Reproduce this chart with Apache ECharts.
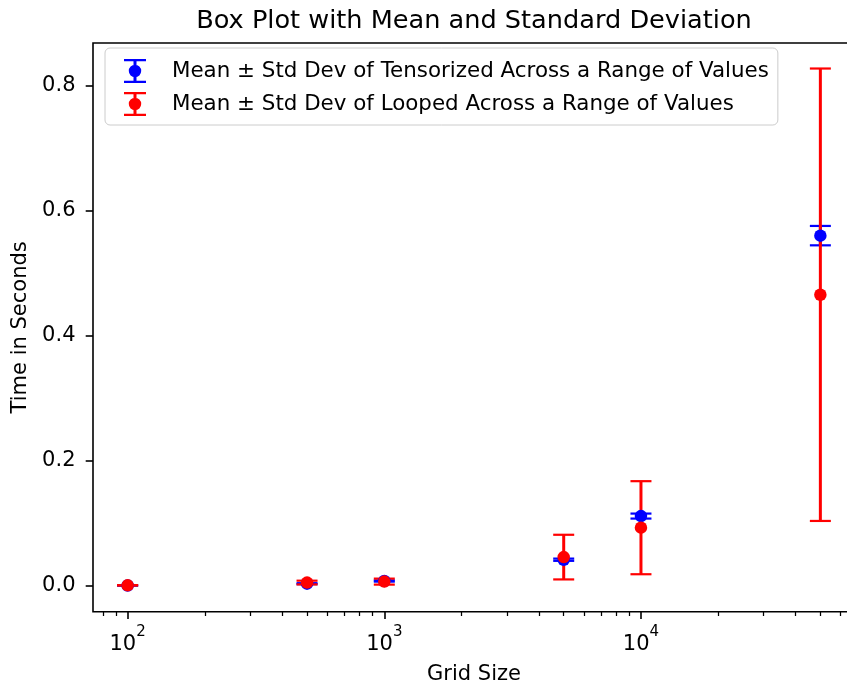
<!DOCTYPE html>
<html>
<head>
<meta charset="utf-8">
<script src="https://cdn.jsdelivr.net/npm/echarts@6/dist/echarts.min.js"></script>
<style>
  html, body { margin: 0; padding: 0; background: #fff; }
  #chart { width: 847px; height: 682px; }
</style>
</head>
<body>
<div id="chart"></div>
<script>
// Benchmark timings (seconds) per grid size
const gridSizes = [100, 500, 1000, 5000, 10000, 50000];
const tensorMean = [0.0006, 0.0035, 0.0078, 0.0418, 0.1116, 0.560];
const tensorStd  = [0.0002, 0.0008, 0.0010, 0.0018, 0.0040, 0.0155];
const loopMean   = [0.0009, 0.0053, 0.0068, 0.0460, 0.0930, 0.4655];
const loopStd    = [0.0003, 0.0030, 0.0048, 0.0357, 0.0744, 0.3617];

const yTicks = [0, 0.2, 0.4, 0.6, 0.8];
const xMajorExps = [2, 3, 4];

const tensorName = 'Mean \u00b1 Std Dev of Tensorized Across a Range of Values';
const loopName = 'Mean \u00b1 Std Dev of Looped Across a Range of Values';

const FONT = 'DejaVu Sans';
const BLUE = '#0000ff';
const RED = '#ff0000';

// x is drawn on a base-10 logarithmic scale
const lg = Math.log10;
const logSpan = lg(gridSizes[gridSizes.length - 1]) - lg(gridSizes[0]);
const xMin = lg(gridSizes[0]) - 0.05 * logSpan;
const xMax = lg(gridSizes[gridSizes.length - 1]) + 0.05 * logSpan;

// minor ticks at 2..9 x 10^k inside the visible range
const xMinor = [];
for (let e = 1; e <= 4; e++) {
  for (let k = 2; k <= 9; k++) {
    const v = lg(k * Math.pow(10, e));
    if (v >= xMin && v <= xMax) xMinor.push(v);
  }
}

function errorData(means, stds) {
  return gridSizes.map((g, i) => [lg(g), means[i], stds[i]]);
}
function pointData(means) {
  return gridSizes.map((g, i) => [lg(g), means[i]]);
}

function errorBar(color) {
  return function (params, api) {
    const x = api.value(0), m = api.value(1), s = api.value(2);
    const top = api.coord([x, m + s]);
    const bot = api.coord([x, m - s]);
    const half = 10.5;
    return {
      type: 'group',
      children: [
        { type: 'line', shape: { x1: top[0], y1: top[1], x2: bot[0], y2: bot[1] },
          style: { stroke: color, lineWidth: 3 } },
        { type: 'line', shape: { x1: top[0] - half, y1: top[1], x2: top[0] + half, y2: top[1] },
          style: { stroke: color, lineWidth: 2.2 } },
        { type: 'line', shape: { x1: bot[0] - half, y1: bot[1], x2: bot[0] + half, y2: bot[1] },
          style: { stroke: color, lineWidth: 2.2 } }
      ]
    };
  };
}

// legend handle: capped vertical bar with a dot
const handleIcon = 'path://M0,0 H22 V2.2 H0 Z M0,21.8 H22 V24 H0 Z M9.5,0 H12.5 V24 H9.5 Z ' +
  'M17.2,12 A6.2,6.2 0 1 1 4.8,12 A6.2,6.2 0 1 1 17.2,12 Z';

const chart = echarts.init(document.getElementById('chart'), null, { renderer: 'canvas' });

chart.setOption({
  animation: false,
  backgroundColor: '#ffffff',
  textStyle: { fontFamily: FONT },
  title: {
    text: 'Box Plot with Mean and Standard Deviation',
    left: 474,
    textAlign: 'center',
    top: 8,
    padding: 0,
    textStyle: { fontFamily: FONT, fontSize: 25.6, fontWeight: 'normal', color: '#000' }
  },
  grid: {
    left: 93, top: 43, width: 762, height: 568.7,
    containLabel: false,
    outerBoundsMode: 'none',
    show: true, borderColor: '#000', borderWidth: 1.6, backgroundColor: 'transparent'
  },
  legend: {
    orient: 'vertical',
    left: 105, top: 48,
    padding: [11, 9, 9, 19],
    itemWidth: 22, itemHeight: 24, itemGap: 9,
    backgroundColor: 'rgba(255,255,255,0.8)',
    borderColor: '#cccccc', borderWidth: 1, borderRadius: 5,
    textStyle: { fontFamily: FONT, fontSize: 21.4, color: '#000', padding: [0, 0, 0, 21] },
    data: [
      { name: tensorName, icon: handleIcon },
      { name: loopName, icon: handleIcon }
    ]
  },
  xAxis: [
    {
      type: 'value', min: xMin, max: xMax, position: 'bottom',
      name: 'Grid Size', nameLocation: 'middle', nameGap: 52,
      nameTextStyle: { fontFamily: FONT, fontSize: 21, color: '#000' },
      axisLine: { show: false, onZero: false },
      splitLine: { show: false },
      axisTick: { customValues: xMajorExps, length: 7.3, lineStyle: { color: '#000', width: 1.6 } },
      axisLabel: {
        customValues: xMajorExps, margin: 13, color: '#000',
        formatter: v => '{b|10}{s|' + Math.round(v) + '}',
        rich: {
          b: { fontFamily: FONT, fontSize: 21, color: '#000', lineHeight: 30, verticalAlign: 'bottom' },
          s: { fontFamily: FONT, fontSize: 15, color: '#000', lineHeight: 18, verticalAlign: 'top' }
        }
      }
    },
    {
      type: 'value', min: xMin, max: xMax, position: 'bottom', offset: 0,
      axisLine: { show: false, onZero: false },
      splitLine: { show: false },
      axisLabel: { show: false },
      axisTick: { customValues: xMinor, length: 4.2, lineStyle: { color: '#000', width: 1.25 } }
    }
  ],
  yAxis: {
    type: 'value', min: -0.0413, max: 0.868,
    name: 'Time in Seconds', nameLocation: 'middle', nameGap: 56, nameRotate: 90,
    nameTextStyle: { fontFamily: FONT, fontSize: 21, color: '#000' },
    axisLine: { show: false, onZero: false },
    splitLine: { show: false },
    axisTick: { customValues: yTicks, length: 7.3, lineStyle: { color: '#000', width: 1.6 } },
    axisLabel: {
      customValues: yTicks, margin: 17.5, color: '#000',
      fontFamily: FONT, fontSize: 21,
      formatter: v => v.toFixed(1)
    }
  },
  series: [
    {
      type: 'custom', name: 'tensorBars', xAxisIndex: 0, z: 2,
      renderItem: errorBar(BLUE), data: errorData(tensorMean, tensorStd),
      encode: { x: 0, y: 1 }
    },
    {
      type: 'custom', name: 'loopBars', xAxisIndex: 0, z: 2,
      renderItem: errorBar(RED), data: errorData(loopMean, loopStd),
      encode: { x: 0, y: 1 }
    },
    {
      type: 'scatter', name: tensorName, xAxisIndex: 0, z: 3,
      symbol: 'circle', symbolSize: 12.5,
      itemStyle: { color: BLUE, opacity: 1 },
      data: pointData(tensorMean)
    },
    {
      type: 'scatter', name: loopName, xAxisIndex: 0, z: 3,
      symbol: 'circle', symbolSize: 12.5,
      itemStyle: { color: RED, opacity: 1 },
      data: pointData(loopMean)
    }
  ]
});
</script>
</body>
</html>
